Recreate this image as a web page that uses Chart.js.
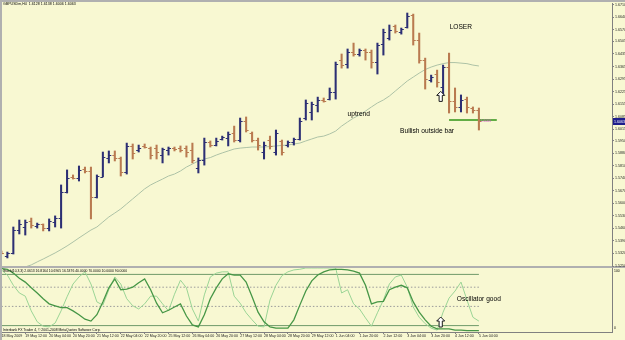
<!DOCTYPE html>
<html>
<head>
<meta charset="utf-8">
<script src="https://cdn.jsdelivr.net/npm/chart.js@4.4.1/dist/chart.umd.min.js"></script>
<style>
  html, body { margin: 0; padding: 0; background: #f8f8d2; }
  #wrap { position: relative; width: 625px; height: 340px; overflow: hidden; background: #f8f8d2; }
  .edge { position: absolute; background: #b0b0b0; }
  canvas { position: absolute; }
</style>
</head>
<body>
<div id="wrap">
  <div class="edge" style="left:0;top:0;width:625px;height:2px"></div>
  <div class="edge" style="left:0;top:0;width:2px;height:340px"></div>
  <div class="edge" style="left:0;top:266px;width:625px;height:2px"></div>
  <canvas id="osc" width="623" height="72" style="left:2px;top:268px;width:623px;height:72px"></canvas>
  <canvas id="main" width="623" height="270" style="left:2px;top:2px;width:623px;height:270px"></canvas>
</div>
<script>
// GBPUSD H4, 18 May - 5 Jun 2009
const priceTicks = ['1.6710', '1.6640', '1.6570', '1.6505', '1.6435', '1.6365', '1.6295', '1.6225',
  '1.6155', '1.6085', '1.6015', '1.5950', '1.5880', '1.5810', '1.5740', '1.5670', '1.5600',
  '1.5530', '1.5460', '1.5390', '1.5320', '1.5250'];

const timeLabels = ['18 May 2009', '19 May 12:00', '20 May 04:00', '20 May 20:00', '21 May 12:00',
  '22 May 04:00', '22 May 20:00', '25 May 12:00', '26 May 04:00', '26 May 20:00', '27 May 12:00',
  '28 May 04:00', '28 May 20:00', '29 May 12:00', '1 Jun 04:00', '1 Jun 20:00', '2 Jun 12:00',
  '3 Jun 04:00', '3 Jun 20:00', '4 Jun 12:00', '5 Jun 04:00'];

const opens = [1.5331, 1.5306, 1.5323, 1.5451, 1.5468, 1.5502, 1.5474, 1.5485, 1.5462, 1.5496,
  1.5518, 1.5664, 1.5747, 1.5742, 1.5792, 1.5781, 1.5636, 1.5750, 1.5854, 1.5870,
  1.5854, 1.5775, 1.5921, 1.5898, 1.5921, 1.5909, 1.5909, 1.5870, 1.5898, 1.5909,
  1.5909, 1.5909, 1.5898, 1.5798, 1.5842, 1.5943, 1.5926, 1.5960, 1.5965, 1.5993,
  1.5954, 1.6060, 1.5993, 1.5954, 1.5887, 1.5954, 1.5887, 1.5949, 1.5926, 1.5943,
  1.5960, 1.6077, 1.6111, 1.6150, 1.6178, 1.6183, 1.6222, 1.6401, 1.6379, 1.6446,
  1.6435, 1.6457, 1.6446, 1.6390, 1.6491, 1.6524, 1.6591, 1.6558, 1.6585, 1.6653,
  1.6513, 1.6401, 1.6289, 1.6323, 1.6250, 1.6362, 1.6172, 1.6139, 1.6183, 1.6133, 1.6122];
const highs = [1.5334, 1.5328, 1.5468, 1.5507, 1.5507, 1.5518, 1.5490, 1.5485, 1.5513, 1.5530,
  1.5703, 1.5787, 1.5759, 1.5809, 1.5803, 1.5803, 1.5759, 1.5887, 1.5893, 1.5893,
  1.5859, 1.5937, 1.5932, 1.5926, 1.5932, 1.5915, 1.5926, 1.5909, 1.5915, 1.5915,
  1.5921, 1.5921, 1.5937, 1.5854, 1.5965, 1.5949, 1.5965, 1.5976, 1.5999, 1.6032,
  1.6077, 1.6083, 1.5999, 1.5965, 1.5943, 1.5976, 1.6010, 1.5954, 1.5949, 1.5965,
  1.6077, 1.6178, 1.6166, 1.6194, 1.6189, 1.6245, 1.6390, 1.6435, 1.6463, 1.6496,
  1.6463, 1.6463, 1.6457, 1.6496, 1.6574, 1.6597, 1.6597, 1.6580, 1.6664, 1.6658,
  1.6552, 1.6412, 1.6317, 1.6345, 1.6373, 1.6440, 1.6245, 1.6206, 1.6194, 1.6139, 1.6133];
const lows = [1.5317, 1.5295, 1.5317, 1.5429, 1.5423, 1.5462, 1.5462, 1.5446, 1.5446, 1.5468,
  1.5462, 1.5658, 1.5736, 1.5725, 1.5770, 1.5513, 1.5630, 1.5748, 1.5826, 1.5837,
  1.5753, 1.5764, 1.5848, 1.5887, 1.5909, 1.5848, 1.5848, 1.5826, 1.5870, 1.5893,
  1.5887, 1.5859, 1.5826, 1.5770, 1.5814, 1.5915, 1.5921, 1.5954, 1.5921, 1.5943,
  1.5943, 1.5999, 1.5943, 1.5898, 1.5848, 1.5904, 1.5870, 1.5870, 1.5915, 1.5926,
  1.5954, 1.6066, 1.6066, 1.6111, 1.6166, 1.6178, 1.6183, 1.6356, 1.6356, 1.6423,
  1.6423, 1.6401, 1.6356, 1.6323, 1.6429, 1.6513, 1.6552, 1.6546, 1.6580, 1.6485,
  1.6384, 1.6239, 1.6278, 1.6250, 1.6206, 1.6105, 1.6111, 1.6111, 1.6105, 1.6105, 1.6010];
const closes = [1.5323, 1.5323, 1.5451, 1.5485, 1.5496, 1.5479, 1.5485, 1.5462, 1.5502, 1.5518,
  1.5664, 1.5742, 1.5742, 1.5787, 1.5781, 1.5636, 1.5753, 1.5859, 1.5870, 1.5854,
  1.5775, 1.5921, 1.5882, 1.5909, 1.5915, 1.5870, 1.5887, 1.5904, 1.5909, 1.5904,
  1.5898, 1.5887, 1.5842, 1.5842, 1.5943, 1.5926, 1.5949, 1.5971, 1.5988, 1.5954,
  1.6060, 1.6010, 1.5954, 1.5926, 1.5926, 1.5921, 1.5993, 1.5887, 1.5943, 1.5960,
  1.6060, 1.6161, 1.6155, 1.6178, 1.6172, 1.6222, 1.6379, 1.6373, 1.6446, 1.6435,
  1.6457, 1.6446, 1.6390, 1.6485, 1.6558, 1.6569, 1.6563, 1.6574, 1.6647, 1.6513,
  1.6401, 1.6295, 1.6306, 1.6278, 1.6362, 1.6172, 1.6139, 1.6178, 1.6139, 1.6122, 1.6063];

// moving average drawn on the price window
const maValues = [1.5172, 1.5194, 1.5217, 1.5233, 1.5245, 1.5256, 1.5273, 1.5289, 1.5306, 1.5323,
  1.5342, 1.5362, 1.5384, 1.5407, 1.5429, 1.5451, 1.5468, 1.5496, 1.5524, 1.5546,
  1.5569, 1.5597, 1.5625, 1.5653, 1.5681, 1.5703, 1.5720, 1.5736, 1.5753, 1.5764,
  1.5781, 1.5803, 1.5820, 1.5837, 1.5848, 1.5856, 1.5870, 1.5882, 1.5893, 1.5904,
  1.5909, 1.5912, 1.5915, 1.5915, 1.5915, 1.5918, 1.5921, 1.5924, 1.5926, 1.5932,
  1.5937, 1.5949, 1.5960, 1.5971, 1.5976, 1.5988, 1.6004, 1.6032, 1.6055, 1.6077,
  1.6094, 1.6116, 1.6139, 1.6161, 1.6178, 1.6200, 1.6228, 1.6256, 1.6284, 1.6306,
  1.6328, 1.6348, 1.6362, 1.6373, 1.6381, 1.6387, 1.6387, 1.6384, 1.6381, 1.6373, 1.6368];

// oscillator window
const stochMain = [99, 98, 92, 84, 78, 69, 61, 52, 44, 41, 38, 38, 33, 27, 20, 17, 27, 47, 69, 83,
  66, 67, 70, 77, 83, 66, 45, 30, 34, 39, 44, 25, 11, 8, 27, 52, 69, 83, 91, 89,
  89, 78, 55, 31, 16, 8, 6, 6, 6, 19, 42, 64, 80, 89, 94, 97, 98, 98, 97, 95,
  92, 73, 44, 47, 48, 66, 70, 73, 69, 47, 31, 19, 9, 5, 5, 5, 3, 3, 2, 2, 2];
const stochSignal = [97, 89, 73, 61, 56, 33, 16, 9, 8, 14, 33, 55, 75, 86, 94, 75, 47, 42, 66, 86,
  75, 52, 41, 36, 44, 56, 56, 44, 33, 59, 81, 69, 36, 17, 58, 86, 92, 94, 94, 56,
  45, 30, 19, 9, 8, 50, 73, 88, 94, 97, 98, 100, 100, 100, 100, 100, 100, 61, 66, 44,
  36, 22, 9, 30, 50, 75, 86, 89, 70, 39, 23, 13, 6, 3, 31, 53, 64, 78, 50, 23, 17];
const stochLevels = [90, 70, 40, 10];

const supportPrice = 1.6066;
const lastPrice = 1.6063;

const upColor = '#2c2f74';
const downColor = '#b97a50';
const barColor = i => (closes[i] >= opens[i] ? upColor : downColor);

Chart.defaults.font.family = 'Liberation Sans, Arial, sans-serif';
Chart.defaults.color = '#222';

// open / close ticks of each bar, placed through the chart scales
const ohlcTicks = {
  id: 'ohlcTicks',
  afterDatasetsDraw(chart) {
    const { ctx, chartArea: a, scales: { x, y } } = chart;
    ctx.save();
    ctx.beginPath();
    ctx.rect(a.left, a.top, a.width, a.height);
    ctx.clip();
    ctx.lineWidth = 1;
    opens.forEach((o, i) => {
      const px = x.getPixelForValue(i);
      const yo = Math.round(y.getPixelForValue(o)) + 0.5;
      const yc = Math.round(y.getPixelForValue(closes[i])) + 0.5;
      ctx.strokeStyle = barColor(i);
      ctx.beginPath();
      ctx.moveTo(px - 2.5, yo); ctx.lineTo(px, yo);
      ctx.moveTo(px, yc); ctx.lineTo(px + 2.5, yc);
      ctx.stroke();
    });
    ctx.restore();
  }
};

function upArrow(ctx, cx, cy) {
  ctx.save();
  ctx.beginPath();
  ctx.moveTo(cx, cy - 5);
  ctx.lineTo(cx + 4, cy - 1);
  ctx.lineTo(cx + 1.6, cy - 1);
  ctx.lineTo(cx + 1.6, cy + 5);
  ctx.lineTo(cx - 1.6, cy + 5);
  ctx.lineTo(cx - 1.6, cy - 1);
  ctx.lineTo(cx - 4, cy - 1);
  ctx.closePath();
  ctx.fillStyle = '#fff';
  ctx.fill();
  ctx.strokeStyle = '#1a1a1a';
  ctx.lineWidth = 1;
  ctx.stroke();
  ctx.restore();
}

const mainNotes = {
  id: 'mainNotes',
  afterDraw(chart) {
    const { ctx, scales: { x, y } } = chart;
    ctx.save();
    ctx.fillStyle = '#000';
    ctx.textBaseline = 'top';
    ctx.font = '3.6px Liberation Sans';
    ctx.fillText('GBPUSDm,H4  1.6128 1.6138 1.6006 1.6063', 1, 0.5);

    ctx.font = '6.6px Liberation Sans';
    ctx.textBaseline = 'middle';
    ctx.fillText('LOSER', x.getPixelForValue(75.1), y.getPixelForValue(1.6585));
    ctx.fillText('uptrend', x.getPixelForValue(58.0), y.getPixelForValue(1.6100));
    ctx.fillText('Bullish outside bar', x.getPixelForValue(66.8), y.getPixelForValue(1.6005));
    upArrow(ctx, x.getPixelForValue(73.6), y.getPixelForValue(1.6198));

    ctx.fillStyle = '#d050c8';
    ctx.font = '3.4px Liberation Sans';
    ctx.fillText('1.6066', x.getPixelForValue(80.3), y.getPixelForValue(1.6060));

    // last price marker on the price scale
    const py = Math.round(y.getPixelForValue(lastPrice));
    ctx.fillStyle = '#1e1e8c';
    ctx.fillRect(x.right + 1, py - 3, 12, 7);
    ctx.fillStyle = '#fff';
    ctx.font = '3.6px Liberation Sans';
    ctx.fillText(lastPrice.toFixed(4), x.right + 2, py + 0.5);
    ctx.restore();
  }
};

const oscNotes = {
  id: 'oscNotes',
  afterDraw(chart) {
    const { ctx, scales: { x, y } } = chart;
    ctx.save();
    ctx.fillStyle = '#000';
    ctx.textBaseline = 'top';
    ctx.font = '3.4px Liberation Sans';
    ctx.fillText('Stoch(10,3,3) 2.0613 16.8164 10.6905 16.5376 40.0000 70.0000 10.0000 90.0000', 1, 1.5);
    ctx.fillText('Interbank FX Trader 4, \u00a9 2001-2008 MetaQuotes Software Corp.', 1, 60);
    ctx.textBaseline = 'middle';
    ctx.fillText('100', x.right + 2, y.getPixelForValue(100) + 3);
    ctx.fillText('0', x.right + 2, y.getPixelForValue(0) - 4);

    ctx.font = '6.6px Liberation Sans';
    ctx.fillText('Oscillator good', x.getPixelForValue(76.3), y.getPixelForValue(51.6));
    upArrow(ctx, x.getPixelForValue(73.6), y.getPixelForValue(15.6));
    ctx.restore();
  }
};

const xRange = { type: 'linear', min: 0.1, max: 102.3, offset: false };

new Chart(document.getElementById('main'), {
  type: 'bar',
  data: {
    datasets: [
      {
        type: 'bar',
        data: lows.map((l, i) => ({ x: i, y: [l, highs[i]] })),
        backgroundColor: opens.map((_, i) => barColor(i)),
        barThickness: 1.4,
        borderWidth: 0,
      },
      {
        type: 'line',
        data: [{ x: 75, y: supportPrice }, { x: 83, y: supportPrice }],
        borderColor: '#62ad45',
        borderWidth: 2,
        pointRadius: 0,
      },
      {
        type: 'line',
        data: maValues.map((v, i) => ({ x: i, y: v })),
        borderColor: '#adc2a6',
        borderWidth: 1,
        pointRadius: 0,
        tension: 0,
      },
    ]
  },
  options: {
    responsive: false,
    animation: false,
    events: [],
    devicePixelRatio: 1,
    layout: { padding: { top: 1, bottom: 6, left: 0, right: 0 } },
    plugins: { legend: { display: false }, tooltip: { enabled: false } },
    scales: {
      x: { ...xRange, display: false },
      y: {
        position: 'right',
        min: 1.5250,
        max: 1.6720,
        afterBuildTicks: s => { s.ticks = priceTicks.map(t => ({ value: parseFloat(t) })); },
        afterFit: s => { s.width = 13; s.paddingTop = 0; s.paddingBottom = 0; },
        ticks: {
          padding: 1,
          font: { size: 3.6 },
          color: '#222',
          callback: (v, i) => priceTicks[i],
        },
        grid: { display: true, drawOnChartArea: false, drawTicks: true, tickLength: 2, color: '#808080' },
        border: { display: true, color: '#808080' },
      }
    }
  },
  plugins: [ohlcTicks, mainNotes]
});

new Chart(document.getElementById('osc'), {
  type: 'line',
  data: {
    datasets: [
      {
        data: stochMain.map((v, i) => ({ x: i, y: v })),
        borderColor: '#469646',
        borderWidth: 1.3,
        pointRadius: 0,
      },
      {
        data: stochSignal.map((v, i) => ({ x: i, y: v })),
        borderColor: '#9ad495',
        borderWidth: 1,
        pointRadius: 0,
      },
      ...stochLevels.map(lv => ({
        data: [{ x: 0, y: lv }, { x: 80, y: lv }],
        borderColor: (lv === 90 || lv === 10) ? '#6f9a6a' : '#9a9a9a',
        borderWidth: 1,
        borderDash: (lv === 90 || lv === 10) ? [] : [1.5, 2],
        pointRadius: 0,
      })),
    ]
  },
  options: {
    responsive: false,
    animation: false,
    events: [],
    devicePixelRatio: 1,
    layout: { padding: 0 },
    plugins: { legend: { display: false }, tooltip: { enabled: false } },
    scales: {
      x: {
        ...xRange,
        afterBuildTicks: s => { s.ticks = timeLabels.map((t, k) => ({ value: k * 4 })); },
        afterFit: s => { s.height = 8; s.paddingLeft = 0; s.paddingRight = 0; },
        ticks: {
          align: 'start',
          autoSkip: false,
          maxRotation: 0,
          padding: 0,
          font: { size: 3.6 },
          color: '#222',
          callback: (v, i) => timeLabels[i],
        },
        grid: { display: true, drawOnChartArea: false, drawTicks: true, tickLength: 2, color: '#808080' },
        border: { display: true, color: '#808080' },
      },
      y: {
        position: 'right',
        min: 0,
        max: 100,
        afterFit: s => { s.width = 13; s.paddingTop = 0; s.paddingBottom = 0; },
        ticks: { display: false },
        grid: { display: false },
        border: { display: true, color: '#808080' },
      }
    }
  },
  plugins: [oscNotes]
});
</script>
</body>
</html>
